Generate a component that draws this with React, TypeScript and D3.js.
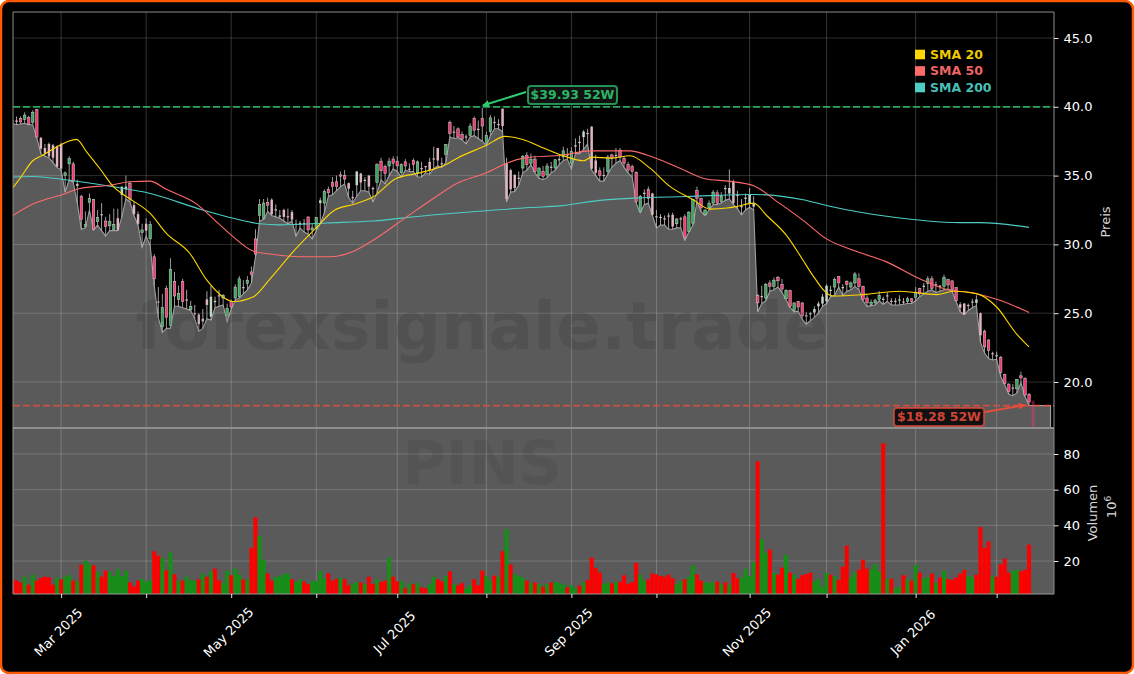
import React, { useRef, useEffect } from 'react';
import * as d3 from 'd3';

const opens = [
  38.9, 39.0, 39.15, 39.08, 39.22, 38.86, 39.8, 37.75, 37.0, 37.3,
  37.2, 37.1, 37.3, 35, 35.85, 35.85, 34.4, 33.5, 31.3, 33.05,
  33.25, 31.65, 32.2, 31.7, 31.35, 31.1, 31.9, 33.6, 34, 34.45,
  32.85, 32.2, 30.85, 31.5, 30.4, 29.1, 25.85, 24, 26.8, 24.1,
  27.3, 26, 27.3, 26, 25.25, 25, 24.9, 24.4, 26, 24.75,
  25.8, 26.3, 26.1, 24.8, 25.85, 26.1, 26.2, 26.9, 27.15, 28,
  30.4, 32.1, 31.9, 33.05, 33.25, 32.5, 32.1, 32.5, 32.05, 32.35,
  31.5, 31.5, 31.55, 32, 31.05, 31.15, 33, 33, 34, 34.5,
  34.55, 35.05, 35, 34.45, 33.45, 34.3, 35.15, 34.65, 35, 34.1,
  34.5, 36.05, 35.65, 35.7, 36.2, 36.05, 35.2, 36, 35.5, 36.1,
  35.2, 35.55, 35.7, 36, 36.25, 37, 35.9, 36.55, 38.85, 38.2,
  38.4, 38, 37.85, 37.9, 39.15, 38.4, 39.15, 37.35, 38.2, 38.9,
  38.75, 39.85, 35.9, 35.4, 35.05, 34.85, 35.55, 36.45, 35.9, 36.2,
  35, 35.3, 35.05, 35.6, 35.55, 36.2, 36.35, 36.5, 35.9, 37.2,
  37.4, 37.8, 38.1, 38.55, 36.1, 35.35, 35.05, 35.3, 36.5, 36.5,
  36.85, 36.25, 35.8, 35.65, 35.25, 32.4, 33.7, 34, 33.7, 32.05,
  32, 31.9, 32.1, 32.15, 31.5, 31.9, 32, 30.95, 31.55, 33.9,
  33.35, 32.15, 32.65, 33, 33.75, 33.1, 34.1, 33.7, 34.55, 33.6,
  32.8, 33.3, 33, 32.75, 26.3, 26.25, 26.1, 27.2, 26.95, 27.6,
  27.1, 26.05, 26.65, 25.2, 25.85, 25.75, 24.85, 24.95, 25.05, 25.5,
  25.7, 25.85, 26.7, 26.9, 27.65, 26.9, 27.3, 26.9, 27.2, 27.5,
  26.95, 26.1, 25.65, 25.75, 26, 26.05, 26.3, 25.9, 25.85, 26,
  25.85, 25.85, 26.05, 26.15, 26.8, 27, 27.15, 27.5, 27.1, 27,
  26.95, 27.45, 27.35, 26.85, 25.65, 25.7, 25.6, 25.85, 25.75, 25,
  23.7, 23.05, 22.1, 21.95, 21.8, 20.55, 19.85, 19.6, 19.5, 20.45,
  20.25, 19.1,
];

const highs = [
  39.3, 39.3, 39.3, 39.6, 39.35, 39.75, 39.85, 37.8, 37.3, 37.4,
  37.3, 37.2, 37.4, 35.3, 36.4, 36, 34.7, 33.6, 32.4, 33.7,
  33.3, 32.5, 33, 32, 32.2, 32.6, 32.6, 34.2, 35, 34.6,
  33.1, 32.4, 31.5, 31.9, 31.7, 29.3, 26.9, 26.4, 27, 29,
  28, 27, 27.5, 26.7, 25.9, 25.6, 25, 25.3, 26.6, 27,
  26.2, 26.7, 26.4, 25.7, 26, 27.1, 27.7, 27.4, 27.7, 28.4,
  31.1, 33.3, 33.3, 33.4, 33.35, 32.9, 32.5, 32.6, 32.6, 32.5,
  31.8, 31.7, 31.85, 32, 31.5, 32, 33.4, 34, 34.2, 34.9,
  35, 35.3, 35.4, 34.5, 33.9, 35.3, 35.2, 34.9, 35.05, 34.2,
  35.9, 36.3, 35.8, 36.3, 36.4, 36.4, 35.9, 36.2, 35.9, 36.25,
  36.1, 36, 35.7, 36.3, 37.1, 37, 36.3, 37.3, 39, 38.6,
  38.5, 38.2, 38, 38.8, 39.3, 39, 39.93, 38.2, 39.4, 39.3,
  39.1, 39.9, 36.3, 35.5, 35.1, 35.3, 36.5, 36.7, 36.6, 36.45,
  35.6, 35.7, 35.9, 36, 36.2, 36.5, 37.1, 37, 37.05, 37.7,
  37.9, 38.3, 38.4, 38.6, 36.5, 35.6, 35.6, 36.5, 36.6, 37,
  37, 36.4, 36, 35.8, 35.3, 33.6, 34, 34.2, 33.75, 32.5,
  32.2, 32.1, 32.3, 32.3, 31.9, 32, 32.2, 32.4, 33.3, 34.2,
  33.4, 32.55, 33.2, 33.95, 33.95, 33.8, 34.3, 35.45, 34.7, 33.9,
  33.3, 33.7, 34.1, 33.5, 26.4, 27, 27.2, 27.4, 27.6, 27.7,
  27.5, 26.75, 26.7, 25.8, 25.9, 25.8, 25.1, 25.1, 25.5, 25.85,
  26.4, 27.1, 27, 27.6, 27.7, 27.1, 27.4, 27.3, 28, 27.9,
  27, 26.3, 26, 26.05, 26.6, 26.2, 26.5, 26.1, 26.1, 26.3,
  26.1, 26.2, 26.1, 26.9, 26.85, 27.2, 27.7, 27.7, 27.3, 27.05,
  27.8, 27.5, 27.4, 26.9, 25.8, 25.75, 25.7, 26.05, 26.3, 25.05,
  23.8, 23.1, 22.2, 22.2, 21.9, 20.6, 19.9, 19.85, 20.2, 20.75,
  20.35, 19.2,
];

const lows = [
  38.8, 38.7, 38.75, 38.8, 38.7, 38.7, 37.75, 36.6, 36.4, 36.3,
  35.95, 35.6, 35.4, 33.8, 34.7, 34.5, 33, 31.1, 31.2, 32.5,
  31.05, 31.4, 31, 30.6, 31, 31, 31, 32, 33.3, 33.1,
  32.1, 31.4, 29.8, 30.6, 29.9, 27, 24.7, 23.6, 23.9, 23.9,
  25.5, 25.5, 25.4, 25.3, 25.2, 24.6, 23.7, 23.9, 24.6, 24.5,
  25.4, 25.5, 25.6, 24.4, 25.3, 25.95, 26.1, 26.4, 26.7, 27.2,
  29.1, 31.7, 31.8, 32.4, 32.1, 32, 31.9, 31.7, 31.5, 31.7,
  30.6, 31.2, 30.9, 30.75, 30.4, 31, 31.5, 32.3, 33.5, 33.6,
  33.9, 34.2, 34.4, 33.4, 33, 33.5, 33.9, 33.9, 33.8, 33.1,
  33.7, 34.7, 34.4, 35, 35.5, 35.3, 34.9, 35.4, 35.3, 35.3,
  34.9, 34.9, 35.2, 35.1, 35.5, 35.7, 35.6, 35.95, 37.8, 37.7,
  37.75, 37.6, 37.3, 37.8, 37.9, 37.7, 37.5, 37.15, 37.9, 38.4,
  38.4, 38.2, 33.1, 33.8, 33.85, 34.3, 35.2, 35.4, 35.8, 35.2,
  34.8, 34.7, 34.85, 35.2, 35.4, 35.8, 36.1, 36.2, 35.5, 36.6,
  36.6, 36.9, 37.3, 35.4, 35, 34.6, 34.6, 35.1, 35.6, 35.9,
  36.1, 35.6, 35.2, 34.9, 33, 32.3, 32.9, 33, 32.1, 31.2,
  31.4, 31.4, 31.1, 31.1, 31.2, 31.2, 30.3, 30.9, 31.4, 33.1,
  32.4, 32.1, 32.5, 32.9, 32.9, 33, 33.2, 33.3, 32.9, 32.6,
  32.15, 32.5, 32.7, 32.5, 25.1, 25.7, 25.9, 26.6, 26.7, 26.9,
  26.5, 26, 25.4, 25.1, 25.15, 24.55, 24.2, 24.45, 24.7, 25,
  25.5, 25.7, 26.2, 26.3, 26.9, 26.3, 26.6, 26.7, 26.95, 26.7,
  25.9, 25.5, 25.55, 25.6, 25.9, 25.65, 25.85, 25.6, 25.6, 25.6,
  25.65, 25.7, 25.7, 25.9, 26.2, 26.4, 26.6, 26.7, 26.5, 26.6,
  26.7, 26.75, 26.6, 25.85, 25.1, 24.9, 25.2, 25.4, 25.55, 22.9,
  22.1, 21.7, 21.6, 21.65, 20.4, 19.8, 19.1, 19, 19.2, 19.95,
  18.95, 18.3,
];

const closes = [
  39.0, 38.9, 38.9, 39.4, 38.72, 39.6, 37.8, 36.95, 36.6, 36.4,
  36.3, 35.65, 35.5, 35.2, 36.25, 34.6, 34.25, 31.8, 31.45, 33.35,
  31.1, 31.95, 32.15, 31.3, 31.65, 31.45, 31.05, 34.2, 34.2, 33.3,
  32.2, 31.5, 31.05, 31, 31.45, 27.5, 25.8, 25.4, 24.7, 28.2,
  26.25, 26.45, 25.85, 25.95, 25.5, 24.95, 24.2, 24.6, 25.6, 26.2,
  25.9, 26.25, 26.3, 25.35, 25.45, 26.9, 27.5, 26.85, 27.4, 27.8,
  29.3, 32.9, 33, 32.85, 32.2, 32.55, 32.1, 32, 32, 31.8,
  31.45, 31.55, 31.5, 31.05, 31.2, 31.95, 33.2, 33.85, 33.75, 34.2,
  34.2, 35, 34.75, 34.05, 33.35, 35.3, 34.5, 34.7, 34.2, 34.05,
  35.8, 35.35, 35.15, 36.05, 35.9, 35.7, 35.8, 35.7, 35.45, 35.8,
  36, 35.5, 35.65, 35.4, 36.2, 36.1, 35.85, 37.25, 38.05, 38.15,
  37.8, 37.65, 37.8, 38.6, 38.3, 38.35, 38.6, 37.9, 39.2, 38.85,
  38.7, 38.6, 33.3, 34, 34.1, 34.8, 36.4, 35.8, 36.2, 35.3,
  35.55, 34.95, 35.7, 35.65, 36.15, 36.2, 36.8, 36.55, 36.75, 37.2,
  37.45, 38.2, 38.05, 35.5, 35.2, 35, 35, 36.35, 36.25, 36.45,
  36.35, 35.9, 35.4, 35.3, 33.1, 33.5, 33.75, 33.35, 32.15, 32,
  32, 31.85, 32.05, 31.3, 31.85, 31.85, 30.5, 32.35, 33.25, 33.35,
  32.65, 32.5, 33, 33.8, 33, 33.5, 34.05, 34.1, 33, 33.55,
  32.7, 33.4, 33.6, 32.95, 25.75, 26.2, 27.1, 26.95, 27.4, 27.35,
  26.75, 26.65, 25.5, 25.75, 25.45, 24.8, 24.8, 25, 25.3, 25.7,
  26.2, 27, 26.7, 27.45, 27.2, 26.9, 27.1, 27.2, 27.85, 26.95,
  26, 25.75, 25.8, 25.95, 26.3, 26.05, 26.25, 25.85, 25.9, 26,
  25.8, 26.05, 25.85, 26.5, 26.4, 27, 27.5, 26.8, 27.05, 26.95,
  27.6, 27.05, 26.7, 25.9, 25.4, 24.9, 25.55, 25.8, 26, 23.4,
  22.55, 22.3, 22.05, 21.95, 20.7, 19.9, 19.3, 19.55, 20.2, 20.3,
  19.05, 18.55,
];

// candles whose body shows up washed out in the picture
const paleCandles = [
  0, 1, 7, 8, 9, 10, 11, 12, 16, 22, 26, 27, 28, 30, 31, 33, 36, 43, 45, 46, 47, 48, 49, 50, 51, 57,
  64, 65, 66, 67, 68, 69, 70, 71, 72, 76, 83, 84, 85, 86, 87, 88, 89, 98, 101, 102, 103, 104, 105, 106,
  109, 112, 115, 119, 120, 121, 122, 123, 124, 125, 133, 135, 137, 139, 140, 141, 142, 143, 144, 146, 149,
  156, 158, 159, 160, 161, 162, 163, 165, 176, 177, 178, 179, 180, 181, 182, 183, 185, 196, 197, 198, 199,
  200, 201, 202, 205, 215, 216, 217, 218, 219, 220, 225, 228, 229, 234, 235, 236, 237, 238, 239, 242, 243, 247,
];

const volumes = [
  9.9, 9, 8, 11.2, 6.7, 12.3, 9, 10.5, 11.2, 10.8,
  6.7, 10.8, 9.7, 11.2, 12.1, 9, 9, 18, 20.2, 18.3,
  17.6, 14, 11.2, 14.6, 14, 11.6, 15.3, 11.6, 14.6, 8,
  5.8, 9, 10, 8.4, 9.3, 25.4, 23, 21.7, 14.8, 24.7,
  12.5, 9, 9, 11.2, 9, 9, 9.7, 12.7, 11.2, 14.2,
  15.7, 9, 7.9, 14.6, 12, 15.7, 12.3, 9.7, 10, 27.5,
  44.5, 34, 20.7, 13, 9, 11.2, 11.2, 12.7, 12.9, 9.7,
  8.2, 9.7, 8.4, 6.9, 8.8, 8.6, 14.4, 10.3, 13, 9,
  10, 10.5, 9.7, 6.4, 6.9, 8.2, 7.9, 7.1, 11.2, 7.1,
  9.7, 8.2, 9, 21.9, 11.2, 8.6, 8.8, 4.7, 7.5, 6.9,
  7.7, 5.2, 4.7, 6.9, 11.2, 9.7, 8.6, 11.6, 14.2, 7.1,
  6.4, 7.5, 4.7, 6.2, 9.7, 6.4, 14.6, 11.6, 9, 11.8,
  11.2, 25.4, 37.8, 18, 12.7, 11.6, 10.7, 9, 7.5, 7.9,
  7.1, 5.6, 7.1, 7.9, 8.2, 7.7, 6.9, 5.2, 6.5, 4.7,
  6.2, 8.2, 9.3, 21.9, 16, 13.5, 7.1, 7.9, 7.5, 8.2,
  8.4, 12, 7.3, 8.2, 18.9, 12.3, 9, 9.7, 13, 12.5,
  11.6, 11.2, 12.3, 10.3, 6.9, 8.8, 9.7, 11.2, 17.6, 12.5,
  9, 7.9, 7.9, 7.9, 8.4, 7.1, 7.9, 6.7, 13.3, 10.3,
  10.8, 15.7, 11.6, 19.4, 75.9, 32.5, 24.7, 26.4, 13.3, 12.3,
  16.3, 23.4, 13.5, 12.3, 10, 12.1, 12.7, 13.5, 8.6, 9.9,
  5.6, 13.3, 12.3, 11.6, 9.5, 16.8, 28.6, 10.8, 13.8, 15.1,
  20.7, 15.7, 15.3, 18.3, 14.2, 86, 10, 10, 4.7, 5.4,
  12, 9.7, 9, 17.8, 13.5, 10.5, 11, 12.9, 8, 10.7,
  14.4, 9.9, 9.5, 10.7, 12.9, 15, 11.6, 10.8, 12.3, 39,
  27.3, 31, 11.2, 11.2, 18.1, 21.3, 13.5, 14.4, 15.1, 14.2,
  15.1, 29.2,
];

// one letter per volume bar, ten to a chunk
const volumeColors = [
  'rrrgrgrrrr', 'rgrggrgrgg', 'rgrrgggggr', 'rrgggrrgrg', 'rgrgggrgrg', 'rrggrggrgr', 'rggrrggggr', 'ggrrggggrr',
  'rgrrggrgrr', 'grrgrrgrgr', 'grrggrrgrg', 'rrggrrrggr', 'grgrgggrgr', 'grgrgggrgg', 'rgrrrrggrg', 'rrrrrggrrr',
  'rrrrggrggr', 'rgggrgrgrr', 'ggggrggrgr', 'rgrgrrrrgg', 'ggrgrrrggr', 'rrgggrgrgg', 'rgrgrggrgr', 'grrrrrggrr',
  'rrgrrrrggr', 'rr',
].join('');

const sma20: [number, number][] = [
  [0, 34.07], [2, 34.86], [5, 36.08], [7.6, 36.5], [11, 37.1], [13.8, 37.5], [15.8, 37.63], [18.3, 36.73],
  [21.6, 35.5], [24.9, 34.2], [28.2, 33.46], [34, 32.25], [38, 30.8], [43.8, 29.34], [48, 27.4], [53.7, 25.9],
  [54.5, 25.85], [59.5, 26.2], [63.6, 27.5], [69.7, 29.6], [74.3, 31], [79.6, 32.5], [84.1, 32.9], [89.1, 33.46],
  [94.8, 34.8], [100.6, 35.2], [107.2, 35.83], [109.7, 36.25], [117, 37.2], [121.6, 37.85], [126.2, 37.6],
  [130.3, 37.1], [136, 36.44], [141, 36.08], [143, 36.34], [147.6, 36.27], [152.5, 36.44], [157.4, 35.54],
  [162.4, 34.2], [168.1, 33.24], [172.3, 32.56], [176.4, 32.64], [178.8, 32.76], [183, 33], [186.2, 32.1],
  [191.1, 30.66], [195.2, 28.85], [197.3, 27.88], [202.6, 26.25], [210, 26.35], [219.1, 26.6], [228.2, 26.35],
  [232.3, 26.6], [238, 26.42], [243, 25.45], [247.9, 23.5], [251, 22.55],
];

const sma50: [number, number][] = [
  [0, 32.08], [5, 32.93], [12.6, 33.65], [16.6, 34.06], [24, 34.3], [29, 34.55], [33.95, 34.6], [38, 34],
  [45.5, 32.93], [50.4, 31.64], [54.5, 30.55], [59.5, 29.5], [63.6, 29.3], [71, 29.1], [78.4, 29.1], [83.8, 29.45],
  [89, 30.3], [97.3, 32], [103.9, 33.34], [109.7, 34.43], [117, 35.2], [122, 35.9], [126.2, 36.27], [136, 36.5],
  [142.6, 36.8], [152.5, 36.8], [156.6, 36.5], [164.8, 35.54], [171, 34.77], [177.2, 34.58], [183, 34.26],
  [189.5, 32.96], [195.2, 31.75], [201, 30.4], [207.6, 29.57], [215.8, 28.73], [224, 27.5], [229.8, 26.8],
  [238, 26.42], [243.8, 25.94], [251, 25.05],
];

const sma200: [number, number][] = [
  [0, 34.9], [5, 34.94], [12.6, 34.72], [24, 34.23], [34, 33.7], [47, 32.5], [54.5, 31.9], [61, 31.5], [66, 31.42],
  [77.6, 31.56], [89, 31.7], [102.3, 32.1], [117, 32.44], [127.8, 32.68], [135.2, 32.8], [145, 33.2], [153.3, 33.36],
  [166.5, 33.48], [183, 33.63], [195.2, 33.25], [201.8, 32.77], [215.8, 32.04], [234, 31.58], [238.9, 31.58], [251, 31.24],
];

const smaSeries = [
  { label: 'SMA 200', color: '#4ECDC4', data: sma200 },
  { label: 'SMA 50', color: '#FF6B6B', data: sma50 },
  { label: 'SMA 20', color: '#FFD700', data: sma20 },
];
const legendOrder = ['SMA 20', 'SMA 50', 'SMA 200'];

const monthTicks = [12, 33, 54, 75, 95, 117, 138, 159, 182, 201, 223, 243];
const monthLabels = ['Mar 2025', '', 'May 2025', '', 'Jul 2025', '', 'Sep 2025', '', 'Nov 2025', '', 'Jan 2026', ''];
const priceTicks = [20, 25, 30, 35, 40, 45];
const volumeTicks = [20, 40, 60, 80];

const high52 = 39.93;
const low52 = 18.28;
const high52Index = 116;
const low52Index = 251;
const ghostIndex = 252;
const ghostOpen = 18.65;
const ghostClose = 16.7;
const tailEnd = 256.3;

const WIDTH = 1134;
const HEIGHT = 674;
const FONT = '"DejaVu Sans", sans-serif';

export default function App() {
  const svgRef = useRef<SVGSVGElement>(null);

  useEffect(() => {
    if (!svgRef.current) return;
    const svg = d3.select(svgRef.current);
    svg.selectAll('*').remove();

    const left = 13;
    const right = 1054;
    const top = 12;
    const split = 428;
    const bottom = 594;

    const x = d3.scaleLinear().domain([0, 251]).range([12.5, 12.5 + 4.05 * 251]);
    const y = d3.scaleLinear().domain([20, 45]).range([382, 38]);
    const yVol = d3.scaleLinear().domain([20, 80]).range([561, 454]);

    svg.append('rect').attr('x', 1).attr('y', 1).attr('width', WIDTH - 2).attr('height', HEIGHT - 2)
      .attr('rx', 8).attr('fill', '#000').attr('stroke', '#FF5A00').attr('stroke-width', 2.5);

    const defs = svg.append('defs');
    defs.append('clipPath').attr('id', 'main-clip').append('rect')
      .attr('x', left).attr('y', top).attr('width', right - left).attr('height', split - top);
    defs.append('clipPath').attr('id', 'vol-clip').append('rect')
      .attr('x', left).attr('y', split).attr('width', right - left).attr('height', bottom - split);

    const main = svg.append('g').attr('clip-path', 'url(#main-clip)');
    const vol = svg.append('g').attr('clip-path', 'url(#vol-clip)');

    // grey area hangs off the lows and runs on past the last bar
    const areaPoints: [number, number][] = [
      ...lows.map((v, i) => [i, v] as [number, number]),
      [ghostIndex, low52],
      [tailEnd, low52],
    ];
    const area = d3.area<[number, number]>().x((d) => x(d[0])).y0(split).y1((d) => y(d[1]));
    main.append('path').datum(areaPoints).attr('d', area).attr('fill', '#5A5A5A');
    const areaLine = d3.line<[number, number]>().x((d) => x(d[0])).y((d) => y(d[1]));
    main.append('path').datum([...areaPoints, [tailEnd, 10]] as [number, number][]).attr('d', areaLine)
      .attr('fill', 'none').attr('stroke', '#A0A0A0').attr('stroke-width', 1.1);

    vol.append('rect').attr('x', left).attr('y', split).attr('width', right - left).attr('height', bottom - split)
      .attr('fill', '#5A5A5A');

    // watermark
    svg.append('text').attr('x', 482).attr('y', 349).attr('text-anchor', 'middle')
      .attr('font-family', FONT).attr('font-weight', 'bold').attr('font-size', 66.5)
      .attr('fill', '#000').attr('fill-opacity', 0.09).text('forexsignale.trade');
    svg.append('text').attr('x', 482).attr('y', 484).attr('text-anchor', 'middle')
      .attr('font-family', FONT).attr('font-weight', 'bold').attr('font-size', 60)
      .attr('fill', '#000').attr('fill-opacity', 0.06).text('PINS');

    // grid
    const gridColor = '#FFFFFF';
    for (const t of priceTicks) {
      main.append('line').attr('x1', left).attr('x2', right).attr('y1', y(t)).attr('y2', y(t))
        .attr('stroke', gridColor).attr('stroke-opacity', 0.22).attr('stroke-width', 0.8);
    }
    for (const t of volumeTicks) {
      vol.append('line').attr('x1', left).attr('x2', right).attr('y1', yVol(t)).attr('y2', yVol(t))
        .attr('stroke', gridColor).attr('stroke-opacity', 0.22).attr('stroke-width', 0.8);
    }
    for (const t of monthTicks) {
      main.append('line').attr('x1', x(t)).attr('x2', x(t)).attr('y1', top).attr('y2', split)
        .attr('stroke', gridColor).attr('stroke-opacity', 0.25).attr('stroke-width', 0.8);
      vol.append('line').attr('x1', x(t)).attr('x2', x(t)).attr('y1', split).attr('y2', bottom)
        .attr('stroke', gridColor).attr('stroke-opacity', 0.25).attr('stroke-width', 0.8);
    }

    // volume bars
    volumes.forEach((v, i) => {
      vol.append('rect')
        .attr('x', x(i) - 2).attr('width', 4)
        .attr('y', yVol(v)).attr('height', Math.max(0, bottom - yVol(v)))
        .attr('fill', volumeColors[i] === 'g' ? '#168F16' : '#FF0000');
    });

    // candles
    const pale = new Set(paleCandles);
    opens.forEach((o, i) => {
      const c = closes[i];
      const up = c >= o;
      const washed = pale.has(i);
      const fill = washed ? (up ? '#C2D6C6' : '#DDB6C1') : up ? '#3BA55C' : '#F2386C';
      main.append('line').attr('x1', x(i)).attr('x2', x(i)).attr('y1', y(highs[i])).attr('y2', y(lows[i]))
        .attr('stroke', washed ? '#BBB0B4' : '#ABABAB').attr('stroke-width', 0.9);
      const bodyTop = y(Math.max(o, c));
      const bodyH = Math.max(1.2, Math.abs(y(o) - y(c)));
      main.append('rect').attr('x', x(i) - 1.25).attr('width', 2.5).attr('y', bodyTop).attr('height', bodyH)
        .attr('fill', fill).attr('stroke', washed ? 'none' : '#D0D0D0').attr('stroke-width', 0.5);
    });

    // trailing bar past the last close
    main.append('rect').attr('x', x(ghostIndex) - 1.5).attr('width', 3)
      .attr('y', y(ghostOpen)).attr('height', y(ghostClose) - y(ghostOpen))
      .attr('fill', '#F2386C').attr('fill-opacity', 0.4);

    // moving averages
    const smaLine = d3.line<[number, number]>().x((d) => x(d[0])).y((d) => y(d[1])).curve(d3.curveMonotoneX);
    for (const s of smaSeries) {
      main.append('path').datum(s.data).attr('d', smaLine)
        .attr('fill', 'none').attr('stroke', s.color).attr('stroke-width', 1.1);
    }

    // 52 week levels
    main.append('line').attr('x1', left).attr('x2', right).attr('y1', y(high52) - 0.9).attr('y2', y(high52) - 0.9)
      .attr('stroke', '#2ECC71').attr('stroke-opacity', 0.8).attr('stroke-width', 1.9)
      .attr('stroke-dasharray', '7,3');
    main.append('line').attr('x1', left).attr('x2', right).attr('y1', y(low52)).attr('y2', y(low52))
      .attr('stroke', '#E74C3C').attr('stroke-opacity', 0.8).attr('stroke-width', 1.9)
      .attr('stroke-dasharray', '7,3');

    const arrowHead = (id: string, color: string) => {
      defs.append('marker').attr('id', id).attr('viewBox', '0 0 10 10').attr('refX', 9).attr('refY', 5)
        .attr('markerUnits', 'userSpaceOnUse')
        .attr('markerWidth', 9).attr('markerHeight', 7).attr('orient', 'auto')
        .append('path').attr('d', 'M0,0 L10,5 L0,10 Z').attr('fill', color);
    };
    arrowHead('arrow-green', '#2ECC71');
    arrowHead('arrow-red', '#E74C3C');

    const callout = (
      text: string, color: string, boxX: number, boxY: number, boxW: number, boxH: number,
      fromX: number, fromY: number, toX: number, toY: number, marker: string,
    ) => {
      svg.append('line').attr('x1', fromX).attr('y1', fromY).attr('x2', toX).attr('y2', toY)
        .attr('stroke', color).attr('stroke-width', 2).attr('marker-end', `url(#${marker})`);
      svg.append('rect').attr('x', boxX).attr('y', boxY).attr('width', boxW).attr('height', boxH).attr('rx', 3)
        .attr('fill', '#111').attr('stroke', color).attr('stroke-opacity', 0.7).attr('stroke-width', 2);
      svg.append('text').attr('x', boxX + boxW / 2).attr('y', boxY + boxH / 2 + 4.4).attr('text-anchor', 'middle')
        .attr('font-family', FONT).attr('font-weight', 'bold').attr('font-size', 12.5)
        .attr('fill', color).attr('fill-opacity', 0.9).text(text);
    };
    callout(`$${high52.toFixed(2)} 52W`, '#2ECC71', 528, 86, 89, 18, 526, 92, x(high52Index) + 0.5, 105.5, 'arrow-green');
    callout(`$${low52.toFixed(2)} 52W`, '#E74C3C', 894, 408, 90, 18, 985, 412, x(low52Index) - 4, 405, 'arrow-red');

    // legend
    legendOrder.forEach((label, i) => {
      const s = smaSeries.find((d) => d.label === label)!;
      const cy = 54.5 + i * 16.5;
      svg.append('rect').attr('x', 915).attr('y', cy - 4.8).attr('width', 10).attr('height', 9.6).attr('fill', s.color);
      svg.append('text').attr('x', 930).attr('y', cy + 4).attr('font-family', FONT).attr('font-weight', 'bold')
        .attr('font-size', 12.5).attr('fill', s.color).attr('fill-opacity', 0.95).text(label);
    });

    // spines
    svg.append('path').attr('d', `M${left},${split} V${top} H${right} V${bottom}`)
      .attr('fill', 'none').attr('stroke', '#8C8C8C').attr('stroke-width', 1);
    svg.append('path').attr('d', `M${left},${split} V${bottom} H${right}`)
      .attr('fill', 'none').attr('stroke', '#9A9A9A').attr('stroke-width', 1);
    svg.append('line').attr('x1', left).attr('x2', right).attr('y1', split).attr('y2', split)
      .attr('stroke', '#8F8F8F').attr('stroke-width', 2);

    // axes
    const styleAxis = (g: d3.Selection<SVGGElement, unknown, null, undefined>) => {
      g.select('.domain').remove();
      g.selectAll('line').attr('stroke', '#FFF').attr('stroke-width', 0.9);
      g.selectAll('text').attr('fill', '#FFF').attr('font-family', FONT).attr('font-size', 13);
    };
    svg.append('g').attr('transform', `translate(${right},0)`)
      .call(d3.axisRight(y).tickValues(priceTicks).tickFormat(d3.format('.1f')).tickSize(4.5).tickPadding(5) as any)
      .call(styleAxis as any);
    svg.append('g').attr('transform', `translate(${right},0)`)
      .call(d3.axisRight(yVol).tickValues(volumeTicks).tickFormat(d3.format('d')).tickSize(4.5).tickPadding(5) as any)
      .call(styleAxis as any);
    const xAxis = svg.append('g').attr('transform', `translate(0,${bottom})`)
      .call(d3.axisBottom(x).tickValues(monthTicks).tickFormat(() => '').tickSize(4) as any)
      .call(styleAxis as any);
    xAxis.selectAll('text').remove();

    monthTicks.forEach((t, i) => {
      if (!monthLabels[i]) return;
      svg.append('text')
        .attr('transform', `translate(${x(t) - 2},${633}) rotate(-45)`)
        .attr('text-anchor', 'middle').attr('dominant-baseline', 'middle')
        .attr('font-family', FONT).attr('font-size', 13).attr('fill', '#FFF')
        .text(monthLabels[i]);
    });

    // axis titles
    const rotated = (px: number, py: number) => `translate(${px},${py}) rotate(-90)`;
    svg.append('text').attr('transform', rotated(1110, 222)).attr('text-anchor', 'middle')
      .attr('font-family', FONT).attr('font-size', 13).attr('fill', '#D8D8D8').text('Preis');
    svg.append('text').attr('transform', rotated(1097, 513)).attr('text-anchor', 'middle')
      .attr('font-family', FONT).attr('font-size', 13).attr('fill', '#D8D8D8').text('Volumen');
    const exp = svg.append('text').attr('transform', rotated(1116, 507)).attr('text-anchor', 'middle')
      .attr('font-family', FONT).attr('font-size', 13).attr('fill', '#D8D8D8');
    exp.append('tspan').text('10');
    exp.append('tspan').attr('dy', -5).attr('font-size', 9).text('6');
  }, []);

  return (
    <svg
      ref={svgRef}
      width={WIDTH}
      height={HEIGHT}
      style={{ position: 'absolute', left: 0, top: 0, display: 'block' }}
    />
  );
}
